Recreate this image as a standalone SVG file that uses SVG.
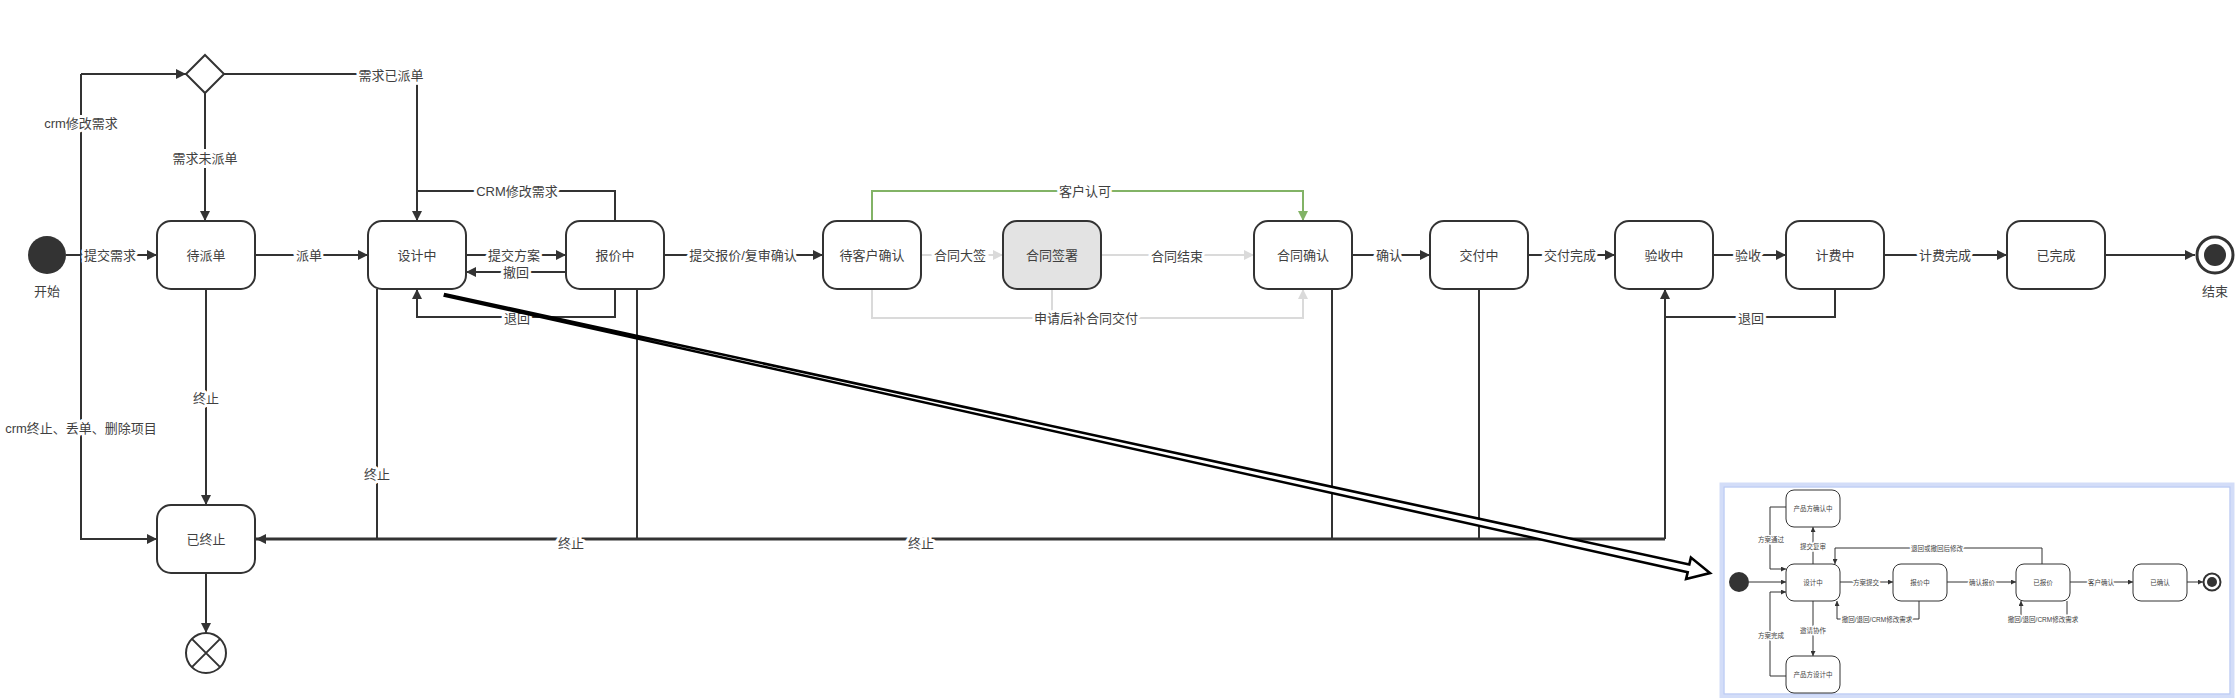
<svg xmlns="http://www.w3.org/2000/svg" width="2235" height="698" viewBox="0 0 2235 698">
<style>
text{font-family:"Liberation Sans","Noto Sans CJK SC",sans-serif;text-anchor:middle;dominant-baseline:central;fill:#3f3f3f}
.n{font-size:13px}
.e{font-size:13px;paint-order:stroke;stroke:#fff;stroke-width:6px;stroke-linejoin:round}
.s{font-size:6.5px}
.se{font-size:6.5px;paint-order:stroke;stroke:#fff;stroke-width:3px;stroke-linejoin:round}
.box{fill:#fff;stroke:#333;stroke-width:2}
.sbox{fill:#fff;stroke:#333;stroke-width:1}
.ln{fill:none;stroke:#333;stroke-width:2}
.gr{fill:none;stroke:#dadada;stroke-width:2}
.gn{fill:none;stroke:#82b366;stroke-width:2}
.sl{fill:none;stroke:#333;stroke-width:1}
</style>
<defs>
<marker id="a" viewBox="0 0 10 10" refX="10" refY="5" markerWidth="11" markerHeight="10" markerUnits="userSpaceOnUse" orient="auto"><path d="M0,0 L10,5 L0,10 z" fill="#333"/></marker>
<marker id="ag" viewBox="0 0 10 10" refX="10" refY="5" markerWidth="11" markerHeight="10" markerUnits="userSpaceOnUse" orient="auto"><path d="M0,0 L10,5 L0,10 z" fill="#dadada"/></marker>
<marker id="an" viewBox="0 0 10 10" refX="10" refY="5" markerWidth="11" markerHeight="10" markerUnits="userSpaceOnUse" orient="auto"><path d="M0,0 L10,5 L0,10 z" fill="#82b366"/></marker>
<marker id="as" viewBox="0 0 10 10" refX="10" refY="5" markerWidth="5.5" markerHeight="5" markerUnits="userSpaceOnUse" orient="auto"><path d="M0,0 L10,5 L0,10 z" fill="#333"/></marker>
</defs>
<rect width="2235" height="698" fill="#fff"/>

<g id="connectors">
<path class="ln" d="M66,255 H157" marker-end="url(#a)"/>
<path class="ln" d="M81,74 H186" marker-end="url(#a)"/>
<path class="ln" d="M81,74 V539 H157" marker-end="url(#a)"/>
<path class="ln" d="M205,93 V221" marker-end="url(#a)"/>
<path class="ln" d="M224,74 H417 V221" marker-end="url(#a)"/>
<path class="ln" d="M255,255 H368" marker-end="url(#a)"/>
<path class="ln" d="M206,289 V505" marker-end="url(#a)"/>
<path class="ln" d="M466,255 H566" marker-end="url(#a)"/>
<path class="ln" d="M566,272 H466" marker-end="url(#a)"/>
<path class="ln" d="M615,221 V191 H417"/>
<path class="ln" d="M615,289 V317 H417 V289" marker-end="url(#a)"/>
<path class="ln" d="M664,255 H823" marker-end="url(#a)"/>
<path class="gn" d="M872,221 V191 H1303 V221" marker-end="url(#an)"/>
<path class="gr" d="M921,255 H1003" marker-end="url(#ag)"/>
<path class="gr" d="M1101,255 H1254" marker-end="url(#ag)"/>
<path class="gr" d="M872,289 V318 H1303 V289" marker-end="url(#ag)"/>
<path class="gr" d="M1052,289 V318"/>
<path class="ln" d="M1352,255 H1430" marker-end="url(#a)"/>
<path class="ln" d="M1528,255 H1615" marker-end="url(#a)"/>
<path class="ln" d="M1713,255 H1786" marker-end="url(#a)"/>
<path class="ln" d="M1885,255 H2007" marker-end="url(#a)"/>
<path class="ln" d="M2105,255 H2195" marker-end="url(#a)"/>
<path class="ln" d="M1835,289 V317 H1665 V289" marker-end="url(#a)"/>
<path class="ln" d="M377,289 V539"/>
<path class="ln" d="M637,289 V539"/>
<path class="ln" d="M1332,289 V539"/>
<path class="ln" d="M1479,289 V539"/>
<path class="ln" d="M1665,317 V539"/>
<path class="ln" style="stroke-width:3" d="M1665,539 H256" marker-end="url(#a)"/>
<path class="ln" d="M206,573 V633" marker-end="url(#a)"/>

<text class="e" x="110" y="255">提交需求</text>
<text class="e" x="81" y="123">crm修改需求</text>
<text class="e" x="81" y="428">crm终止、丢单、删除项目</text>
<text class="e" x="205" y="158">需求未派单</text>
<text class="e" x="391" y="75">需求已派单</text>
<text class="e" x="309" y="255">派单</text>
<text class="e" x="206" y="398">终止</text>
<text class="e" x="514" y="255">提交方案</text>
<text class="e" x="516" y="272">撤回</text>
<text class="e" x="517" y="191">CRM修改需求</text>
<text class="e" x="517" y="318">退回</text>
<text class="e" x="743" y="255">提交报价/复审确认</text>
<text class="e" x="1085" y="191">客户认可</text>
<text class="e" x="960" y="255">合同大签</text>
<text class="e" x="1177" y="256">合同结束</text>
<text class="e" x="1086" y="318">申请后补合同交付</text>
<text class="e" x="1389" y="255">确认</text>
<text class="e" x="1570" y="255">交付完成</text>
<text class="e" x="1748" y="255">验收</text>
<text class="e" x="1945" y="255">计费完成</text>
<text class="e" x="1751" y="318">退回</text>
<text class="e" x="377" y="474">终止</text>
<text class="e" x="571" y="543">终止</text>
<text class="e" x="921" y="543">终止</text>
</g>

<g id="start"><circle cx="47" cy="255" r="19" fill="#333"/><text class="n" x="47" y="291">开始</text></g>
<g id="decision"><path d="M205,55 L224,74 L205,93 L186,74 Z" fill="#fff" stroke="#333" stroke-width="2"/></g>
<g id="n-daipaidan"><rect class="box" x="157" y="221" width="98" height="68" rx="14"/><text class="n" x="206" y="255">待派单</text></g>
<g id="n-sheji"><rect class="box" x="368" y="221" width="98" height="68" rx="14"/><text class="n" x="417" y="255">设计中</text></g>
<g id="n-baojia"><rect class="box" x="566" y="221" width="98" height="68" rx="14"/><text class="n" x="615" y="255">报价中</text></g>
<g id="n-daikehu"><rect class="box" x="823" y="221" width="98" height="68" rx="14"/><text class="n" x="872" y="255">待客户确认</text></g>
<g id="n-hetongqianshu"><rect class="box" style="fill:#e3e3e3" x="1003" y="221" width="98" height="68" rx="14"/><text class="n" x="1052" y="255">合同签署</text></g>
<g id="n-hetongqueren"><rect class="box" x="1254" y="221" width="98" height="68" rx="14"/><text class="n" x="1303" y="255">合同确认</text></g>
<g id="n-jiaofu"><rect class="box" x="1430" y="221" width="98" height="68" rx="14"/><text class="n" x="1479" y="255">交付中</text></g>
<g id="n-yanshou"><rect class="box" x="1615" y="221" width="98" height="68" rx="14"/><text class="n" x="1664" y="255">验收中</text></g>
<g id="n-jifei"><rect class="box" x="1786" y="221" width="98" height="68" rx="14"/><text class="n" x="1835" y="255">计费中</text></g>
<g id="n-wancheng"><rect class="box" x="2007" y="221" width="98" height="68" rx="14"/><text class="n" x="2056" y="255">已完成</text></g>
<g id="n-zhongzhi"><rect class="box" x="157" y="505" width="98" height="68" rx="14"/><text class="n" x="206" y="539">已终止</text></g>
<g id="terminate"><circle cx="206" cy="653" r="20" fill="#fff" stroke="#333" stroke-width="2"/><path d="M191.9,638.9 L220.1,667.1 M220.1,638.9 L191.9,667.1" stroke="#333" stroke-width="2"/></g>
<g id="end"><circle cx="2215" cy="255" r="18" fill="#fff" stroke="#333" stroke-width="3"/><circle cx="2215" cy="255" r="11" fill="#333"/><text class="n" x="2215" y="291">结束</text></g>

<g id="inset">
<rect x="1722" y="485" width="510" height="211" fill="#fff" stroke="#d3ddf8" stroke-width="5"/>
<rect x="1724" y="487" width="506" height="207" fill="none" stroke="#b9c9f3" stroke-width="1"/>
<g id="inset-connectors">
<path class="sl" d="M1749,582 H1786" marker-end="url(#as)"/>
<path class="sl" d="M1786,507 H1770 V569 H1786" marker-end="url(#as)"/>
<path class="sl" d="M1786,676 H1770 V592 H1786" marker-end="url(#as)"/>
<path class="sl" d="M1813,564 V527" marker-end="url(#as)"/>
<path class="sl" d="M1813,601 V656" marker-end="url(#as)"/>
<path class="sl" d="M1840,582 H1893" marker-end="url(#as)"/>
<path class="sl" d="M1919,601 V619 H1837 V601" marker-end="url(#as)"/>
<path class="sl" d="M1946,582 H2016" marker-end="url(#as)"/>
<path class="sl" d="M2042,564 V548 H1835 V564" marker-end="url(#as)"/>
<path class="sl" d="M2067,601 V617 H2021 V601" marker-end="url(#as)"/>
<path class="sl" d="M2069,582 H2133" marker-end="url(#as)"/>
<path class="sl" d="M2186,582 H2203" marker-end="url(#as)"/>
<text class="se" x="1771" y="539">方案通过</text>
<text class="se" x="1771" y="635">方案完成</text>
<text class="se" x="1813" y="546">提交复审</text>
<text class="se" x="1813" y="630">邀请协作</text>
<text class="se" x="1866" y="582">方案提交</text>
<text class="se" x="1877" y="619">撤回/退回/CRM修改需求</text>
<text class="se" x="1982" y="582">确认报价</text>
<text class="se" x="1937" y="548">退回或撤回后修改</text>
<text class="se" x="2043" y="619">撤回/退回/CRM修改需求</text>
<text class="se" x="2101" y="582">客户确认</text>
</g>
<g id="i-start"><circle cx="1739" cy="582" r="10" fill="#333"/></g>
<g id="i-sheji"><rect class="sbox" x="1786" y="564" width="54" height="37" rx="8"/><text class="s" x="1813" y="582.5">设计中</text></g>
<g id="i-chanpinqueren"><rect class="sbox" x="1786" y="490" width="54" height="37" rx="8"/><text class="s" x="1813" y="508.5">产品方确认中</text></g>
<g id="i-chanpinsheji"><rect class="sbox" x="1786" y="656" width="54" height="37" rx="8"/><text class="s" x="1813" y="674.5">产品方设计中</text></g>
<g id="i-baojia"><rect class="sbox" x="1893" y="564" width="54" height="37" rx="8"/><text class="s" x="1920" y="582.5">报价中</text></g>
<g id="i-yibaojia"><rect class="sbox" x="2016" y="564" width="54" height="37" rx="8"/><text class="s" x="2043" y="582.5">已报价</text></g>
<g id="i-yiqueren"><rect class="sbox" x="2133" y="564" width="54" height="37" rx="8"/><text class="s" x="2160" y="582.5">已确认</text></g>
<g id="i-end"><circle cx="2212" cy="582" r="8.5" fill="#fff" stroke="#333" stroke-width="2"/><circle cx="2212" cy="582" r="5" fill="#333"/></g>
</g>

<g id="pointer">
<path d="M445.2,294.3 L1689.3,564.4 L1690.9,557.6 L1710,573 L1686.1,579 L1687.7,572.2 L444.8,295.7 Z" fill="#fff" stroke="#000" stroke-width="2.6" stroke-linejoin="miter"/>
</g>
</svg>
